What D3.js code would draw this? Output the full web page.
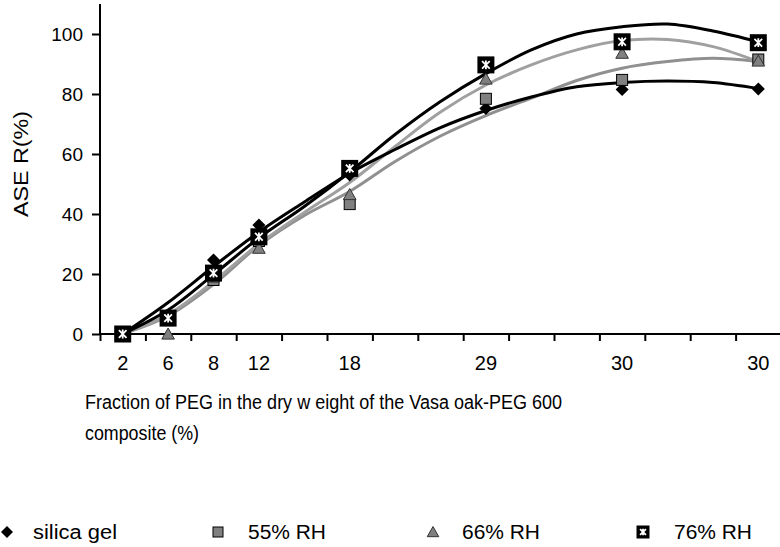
<!DOCTYPE html>
<html>
<head>
<meta charset="utf-8">
<script src="https://cdn.jsdelivr.net/npm/d3@7"></script>
<style>
  html, body { margin: 0; padding: 0; background: #fff; }
  svg { display: block; font-family: "Liberation Sans", Arial, sans-serif; }
</style>
</head>
<body>
<svg id="chart" width="780" height="547"></svg>
<script>
// ---- data ----
const xLabels = ["2", "6", "8", "12", "", "18", "", "", "29", "", "", "30", "", "", "30"];
const yTicks = [0, 20, 40, 60, 80, 100];

const silicaGel = [0, null, 24.7, 36.3, null, 53, null, null, 75.2, null, null, 81.5, null, null, 81.7];
const rh55 = [0, null, 18, 31, null, 43.3, null, null, 78.4, null, null, 84.7, null, null, 91.5];
const rh66 = [0, 0, 19, 28.6, null, 46.5, null, null, 85, null, null, 93.6, null, null, 91];
const rh76 = [0, 5.3, 20.3, 32.4, null, 55.2, null, null, 89.7, null, null, 97.4, null, null, 97.1];

// trendlines at every category
const silicaTrend = [0, 10.5, 22.5, 34, 44, 53.6, 61.5, 68.8, 74.5, 79, 82.4, 83.8, 84.3, 83.8, 81.8];
const rh55Trend = [0, 6, 16.5, 29.5, 39.5, 47.5, 57.5, 66, 72.8, 78.6, 84.5, 88.6, 90.8, 91.9, 90.8];
const rh66Trend = [0, 6.5, 17.5, 30, 40.5, 50.5, 62.5, 74, 83, 89.7, 94.7, 97.8, 98.2, 95.8, 90.8];
const rh76Trend = [0, 8, 19.8, 32, 42.5, 54, 66.5, 77.5, 86.8, 94.7, 100, 102.4, 103.3, 101, 97.4];

const seriesNames = ["silica gel", "55% RH", "66% RH", "76% RH"];

// ---- layout ----
const svg = d3.select("#chart");
const plotLeft = 100, plotRight = 781, plotTop = 4, plotBottom = 334;

const idx = d3.range(xLabels.length);
const x = d3.scaleBand().domain(idx).range([plotLeft, plotRight]).paddingInner(0).paddingOuter(0);
const xc = i => x(i) + x.bandwidth() / 2;
const y = d3.scaleLinear().domain([0, 110]).range([plotBottom, plotTop]);

// ---- trendlines ----
const line = d3.line()
  .defined(d => d != null)
  .x((d, i) => xc(i))
  .y(d => y(d))
  .curve(d3.curveCatmullRom.alpha(0.5));

const trends = [
  { vals: rh55Trend, color: "#909090" },
  { vals: rh66Trend, color: "#a0a0a0" },
  { vals: silicaTrend, color: "#000" },
  { vals: rh76Trend, color: "#000" }
];
svg.append("g").selectAll("path").data(trends).join("path")
  .attr("d", d => line(d.vals))
  .attr("fill", "none")
  .attr("stroke", d => d.color)
  .attr("stroke-width", 3)
  .attr("stroke-linejoin", "round");

// ---- axes ----
const yAxis = d3.axisLeft(y).tickValues(yTicks).tickSize(8).tickPadding(9).tickFormat(d3.format("d"));
const gy = svg.append("g").attr("transform", `translate(${plotLeft},0)`).call(yAxis);
gy.select(".domain").attr("d", `M0,${plotBottom}V${plotTop}`).attr("stroke", "#000").attr("stroke-width", 2);
gy.selectAll(".tick line").attr("stroke", "#000").attr("stroke-width", 2);
gy.selectAll(".tick text").attr("font-size", 19).attr("fill", "#000").attr("font-family", "Liberation Sans, Arial, sans-serif");

// tick marks at category boundaries
const bounds = d3.scaleLinear().domain([0, xLabels.length]).range([plotLeft, plotRight]);
const xTickAxis = d3.axisBottom(bounds).tickValues(d3.range(0, xLabels.length + 1)).tickSize(7).tickFormat("");
const gxt = svg.append("g").attr("transform", `translate(0,${plotBottom})`).call(xTickAxis);
gxt.select(".domain").attr("d", `M${plotLeft},0H${plotRight}`).attr("stroke", "#000").attr("stroke-width", 2);
gxt.selectAll(".tick line").attr("stroke", "#000").attr("stroke-width", 2);

// category labels
const xLabelAxis = d3.axisBottom(x).tickSize(0).tickPadding(22).tickFormat(i => xLabels[i]);
const gxl = svg.append("g").attr("transform", `translate(0,${plotBottom})`).call(xLabelAxis);
gxl.select(".domain").remove();
gxl.selectAll(".tick text").attr("font-size", 20).attr("fill", "#000").attr("font-family", "Liberation Sans, Arial, sans-serif");

// ---- markers ----
function drawMarker(g, type, cx, cy, s) {
  if (type === 0) {
    g.append("path")
      .attr("d", `M${cx},${cy - s}L${cx + s},${cy}L${cx},${cy + s}L${cx - s},${cy}Z`)
      .attr("fill", "#000");
  } else if (type === 1) {
    g.append("rect").attr("x", cx - s).attr("y", cy - s).attr("width", 2 * s).attr("height", 2 * s)
      .attr("fill", "#808080").attr("stroke", "#000").attr("stroke-width", 1);
  } else if (type === 2) {
    g.append("path")
      .attr("d", `M${cx},${cy - s}L${cx + s * 1.05},${cy + s * 0.85}L${cx - s * 1.05},${cy + s * 0.85}Z`)
      .attr("fill", "#808080").attr("stroke", "#333").attr("stroke-width", 1);
  } else {
    g.append("rect").attr("x", cx - s).attr("y", cy - s).attr("width", 2 * s).attr("height", 2 * s)
      .attr("fill", "#000");
    const a = s * 0.45;
    g.append("path")
      .attr("d", `M${cx - a},${cy - a}L${cx + a},${cy + a}M${cx + a},${cy - a}L${cx - a},${cy + a}M${cx},${cy - a * 1.15}V${cy + a * 1.15}`)
      .attr("stroke", "#fff").attr("stroke-width", 1.8).attr("fill", "none");
  }
}

const seriesData = [silicaGel, rh55, rh66, rh76];
const sizes = [6.5, 5.5, 6, 8.5];
const gm = svg.append("g");
seriesData.forEach((vals, k) => {
  vals.forEach((v, i) => {
    if (v == null) return;
    drawMarker(gm, k, xc(i), y(v), sizes[k]);
  });
});

// ---- axis titles ----
svg.append("text")
  .attr("transform", "translate(28,164) rotate(-90)")
  .attr("text-anchor", "middle")
  .attr("font-size", 21)
  .attr("textLength", 106)
  .attr("lengthAdjust", "spacingAndGlyphs")
  .text("ASE R(%)");

svg.append("text").attr("x", 85).attr("y", 409).attr("font-size", 20)
  .attr("textLength", 477).attr("lengthAdjust", "spacingAndGlyphs")
  .text("Fraction of PEG in the dry w eight of the Vasa oak-PEG 600");
svg.append("text").attr("x", 85).attr("y", 440).attr("font-size", 20)
  .attr("textLength", 114).attr("lengthAdjust", "spacingAndGlyphs")
  .text("composite (%)");

// ---- legend ----
const legendMarkX = [7, 218, 433, 643];
const legendTextX = [33, 248, 462, 674];
const legendTextLen = [84, 78, 78, 78];
const legendSizes = [6, 5, 5.5, 6.5];
const gl = svg.append("g");
seriesNames.forEach((name, k) => {
  drawMarker(gl, k, legendMarkX[k], 532, legendSizes[k]);
  gl.append("text").attr("x", legendTextX[k]).attr("y", 539).attr("font-size", 20)
    .attr("textLength", legendTextLen[k]).attr("lengthAdjust", "spacingAndGlyphs")
    .text(name);
});
</script>
</body>
</html>
